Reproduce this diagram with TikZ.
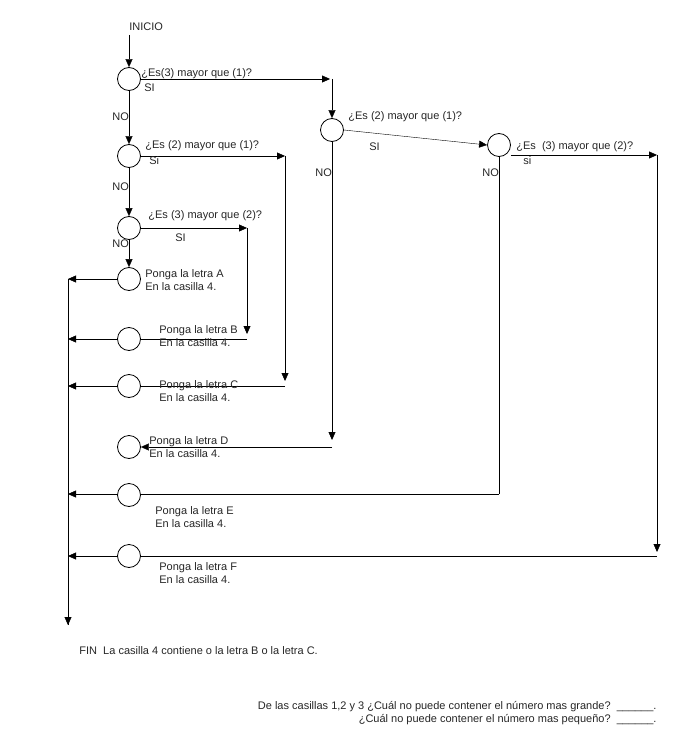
\documentclass[tikz,border=0pt]{standalone}
\usepackage{fontspec}
\setmainfont{Liberation Sans}
\usetikzlibrary{arrows.meta}
\begin{document}
\begin{tikzpicture}[x=1pt,y=-1pt,
  c/.style={circle,draw,minimum size=23pt,inner sep=0pt,fill=white},
  t/.style={anchor=west,inner sep=0pt,font=\fontsize{11}{12.5}\selectfont,align=left,text=black!85},
  a/.style={-{Triangle[length=8pt,width=7pt]},thin},
  every path/.style={line width=0.8pt}]
\useasboundingbox (0,0) rectangle (684,738);
\coordinate (start) at (129,35);
\node[c] (c1) at (129,79) {};
\node[c] (c2) at (129,156) {};
\node[c] (c3) at (129,228) {};
\node[c] (r1) at (332,130) {};
\node[c] (r2) at (499,145) {};
\coordinate (fin) at (68,625);
\coordinate (top) at (68,279);
\draw (top) -- (fin);
\draw[a] (start) -- (c1);
\draw[a] (c1) -- (c2);
\draw[a] (c2) -- (c3);
\coordinate (p1) at (330,79); \coordinate (p1b) at (332,79);
\draw[a] (c1.east) -- (p1); \draw[a] (p1b) -- (r1);
\draw[a] (r1.east) -- (r2.west);
\coordinate (p2) at (657,155);
\draw[a] (r2.east|-p2) -- (p2);
\coordinate (p2b) at (657,552); \draw[a] (p2) -- (p2b);
\coordinate (fF) at (657,556); \coordinate (lF) at (68,556);
\draw[a] (fF) -- (lF);
\coordinate (q1) at (499,494); \coordinate (lE) at (68,494);
\draw (r2) -- (q1); \draw[a] (q1) -- (lE);
\coordinate (d1) at (332,440); \coordinate (d2) at (332,447);
\draw[a] (r1) -- (d1);
\coordinate (s2) at (285,156); \coordinate (s2b) at (285,381); \coordinate (s2c) at (285,386);
\draw[a] (c2.east) -- (s2); \draw[a] (s2) -- (s2b);
\coordinate (s3) at (247,228); \coordinate (s3b) at (247,334); \coordinate (s3c) at (247,339);
\draw[a] (c3.east) -- (s3); \draw[a] (s3) -- (s3b);
\coordinate (lB) at (68,339); \coordinate (lC) at (68,386);
\draw[a] (s3c) -- (lB);
\draw[a] (s2c) -- (lC);
\coordinate (lA) at (68,279);
\node[c] (ca) at (129,279) {};
\node[c] (cb) at (129,339) {};
\node[c] (cc) at (129,386) {};
\node[c] (cd) at (129,447) {};
\node[c] (ce) at (129,495) {};
\node[c] (cf) at (129,556) {};
\draw[a] (c3) -- (ca);
\draw[a] (ca) -- (lA);
\draw[a] (d2) -- (cd);
\draw[a] (fin) ++(0,-6) -- (fin);
\node[t] (ti) at (129,27) {INICIO};
\node[t] at (141,74) {¿Es(3) mayor que (1)?};
\node[t] at (144,88) {SI};
\node[t] at (112,117) {NO};
\node[t] at (145,146) {¿Es (2) mayor que (1)?};
\node[t] at (149,161) {Si};
\node[t] at (112,187) {NO};
\node[t] at (148,216) {¿Es (3) mayor que (2)?};
\node[t] at (175,238) {SI};
\node[t] at (112,244) {NO};
\node[t] at (348,117) {¿Es (2) mayor que (1)?};
\node[t] at (369,147) {SI};
\node[t] at (315,173) {NO};
\node[t] at (516,147) {¿Es\ \ (3) mayor que (2)?};
\node[t] at (523,161) {si};
\node[t] at (482,173) {NO};
\node[t] at (145,280) {Ponga la letra A\\En la casilla 4.};
\node[t] at (159,336) {Ponga la letra B\\En la casilla 4.};
\node[t] at (159,391) {Ponga la letra C\\En la casilla 4.};
\node[t] at (149,447) {Ponga la letra D\\En la casilla 4.};
\node[t] at (155,517) {Ponga la letra E\\En la casilla 4.};
\node[t] at (159,573) {Ponga la letra F\\En la casilla 4.};
\node[t] at (79,651) {FIN\ \ La casilla 4 contiene o la letra B o la letra C.};
\node[t,anchor=east,align=right] at (657,713) {De las casillas 1,2 y 3 ¿Cuál no puede contener el número mas grande?\ \ \_\_\_\_\_\_.\\¿Cuál no puede contener el número mas pequeño?\ \ \_\_\_\_\_\_.};
\end{tikzpicture}
\end{document}
